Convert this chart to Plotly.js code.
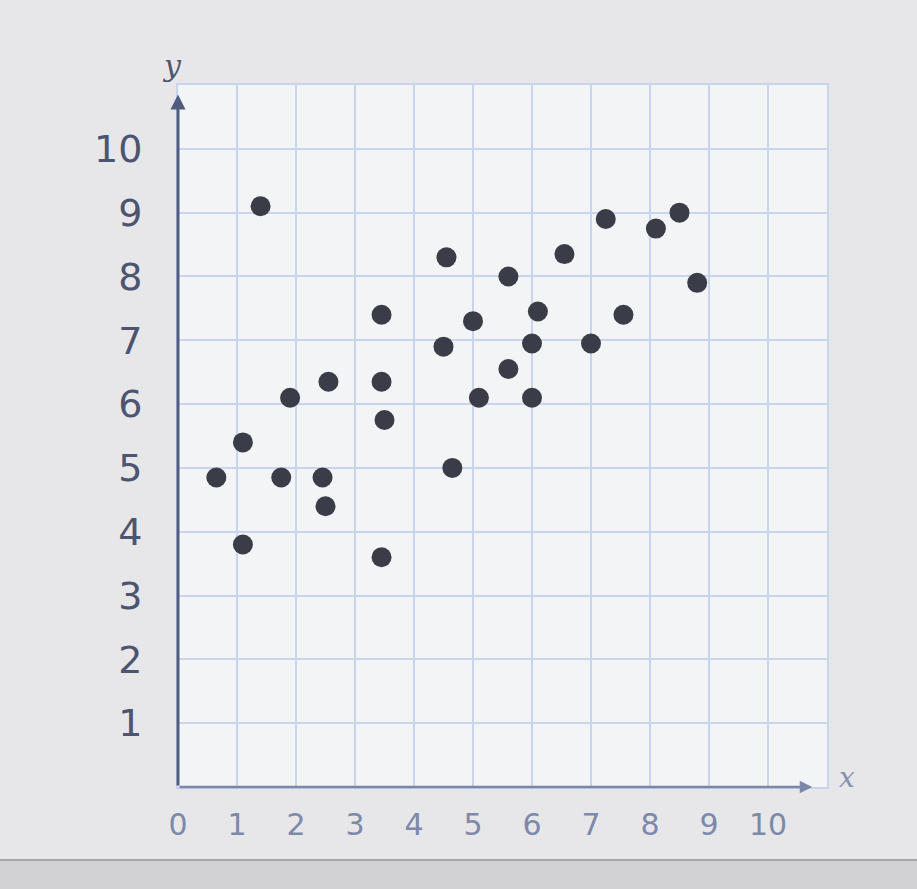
<!DOCTYPE html>
<html><head><meta charset="utf-8">
<script src="https://cdn.plot.ly/plotly-3.0.1.min.js"></script>
<style>html,body{margin:0;padding:0;background:#e7e7e9;} #chart{width:917px;height:889px;}</style>
</head><body><div id="chart"></div>
<script>
// Scatter data
const xValues = [1.4, 0.65, 1.1, 1.1, 1.9, 1.75, 2.55, 2.45, 2.5, 3.45, 3.45, 3.5, 3.45, 4.55, 4.5, 4.65, 5.0, 5.1, 5.6, 5.6, 6.0, 6.1, 6.0, 6.55, 7.0, 7.25, 7.55, 8.1, 8.5, 8.8];
const yValues = [9.1, 4.85, 5.4, 3.8, 6.1, 4.85, 6.35, 4.85, 4.4, 7.4, 6.35, 5.75, 3.6, 8.3, 6.9, 5.0, 7.3, 6.1, 8.0, 6.55, 6.1, 7.45, 6.95, 8.35, 6.95, 8.9, 7.4, 8.75, 9.0, 7.9];
const xTickVals = [0, 1, 2, 3, 4, 5, 6, 7, 8, 9, 10];
const xTickText = ['0', '1', '2', '3', '4', '5', '6', '7', '8', '9', '10'];
const yTickVals = [1, 2, 3, 4, 5, 6, 7, 8, 9, 10];
const yTickText = ['1', '2', '3', '4', '5', '6', '7', '8', '9', '10'];
const xAxisLabel = 'x';
const yAxisLabel = 'y';

const gridColor = '#c9d5ec';
const trace = {
  type: 'scatter', mode: 'markers',
  x: xValues, y: yValues,
  marker: {size: 20, color: '#3a3d47'},
  cliponaxis: false
};

const layout = {
  width: 917, height: 889,
  margin: {l: 178, r: 90, t: 85, b: 102},
  paper_bgcolor: '#e7e7e9', plot_bgcolor: '#f3f4f6',
  showlegend: false,
  font: {family: 'DejaVu Sans'},
  xaxis: {
    range: [0, 11], tickmode: 'array', tickvals: xTickVals, ticktext: xTickText,
    showgrid: true, gridcolor: gridColor, gridwidth: 2, zeroline: false,
    showline: true, mirror: true, linecolor: gridColor, linewidth: 2,
    ticks: '', ticklabelstandoff: 10,
    tickfont: {family: 'DejaVu Sans', size: 30, color: '#7d89aa'}
  },
  yaxis: {
    range: [0, 11], tickmode: 'array', tickvals: yTickVals, ticktext: yTickText,
    showgrid: true, gridcolor: gridColor, gridwidth: 2, zeroline: false,
    showline: true, mirror: true, linecolor: gridColor, linewidth: 2,
    ticks: '', ticklabelstandoff: 26,
    tickfont: {family: 'DejaVu Sans', size: 38, color: '#4d5470'}
  },
  shapes: [
    {type: 'rect', xref: 'paper', yref: 'paper', x0: -0.3, x1: 1.2, y0: -0.104, y1: -0.16,
     fillcolor: '#d2d2d4', line: {width: 0}, layer: 'below'},
    {type: 'line', xref: 'paper', yref: 'paper', x0: -0.3, x1: 1.2, y0: -0.104, y1: -0.104,
     line: {color: '#a8a8ac', width: 2}}
  ],
  annotations: [
    {xref: 'x', yref: 'y', axref: 'x', ayref: 'y', x: 10.75, y: 0, ax: 0, ay: 0,
     text: '', showarrow: true, arrowhead: 2, arrowsize: 1, arrowwidth: 2.5, arrowcolor: '#7c88aa'},
    {xref: 'x', yref: 'y', axref: 'x', ayref: 'y', x: 0, y: 10.85, ax: 0, ay: 0,
     text: '', showarrow: true, arrowhead: 2, arrowsize: 1, arrowwidth: 3, arrowcolor: '#4f5c80'},
    {xref: 'paper', yref: 'paper', x: 1.015, y: 0.014, xanchor: 'left', yanchor: 'middle',
     text: '<i>' + xAxisLabel + '</i>', showarrow: false,
     font: {family: 'DejaVu Serif', size: 28, color: '#8592b4'}},
    {xref: 'paper', yref: 'paper', x: -0.01, y: 1.0, xanchor: 'center', yanchor: 'bottom',
     text: '<i>' + yAxisLabel + '</i>', showarrow: false,
     font: {family: 'DejaVu Serif', size: 30, color: '#4f5670'}}
  ]
};

Plotly.newPlot('chart', [trace], layout, {displayModeBar: false, staticPlot: true});
</script>
</body></html>
